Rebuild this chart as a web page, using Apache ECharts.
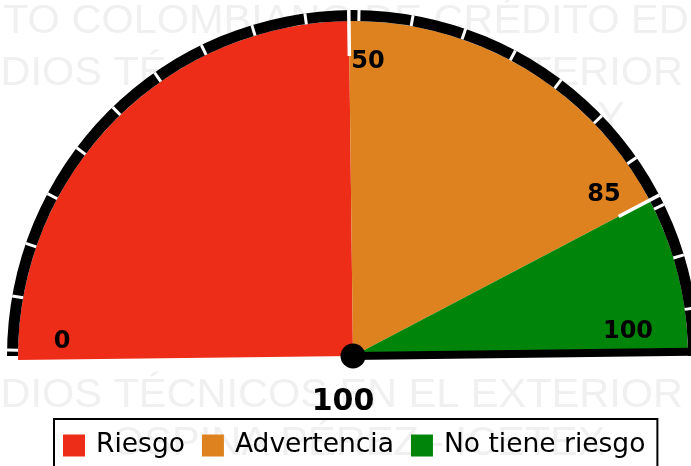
<!DOCTYPE html>
<html>
<head>
<meta charset="utf-8">
<script src="https://cdn.jsdelivr.net/npm/echarts@6/dist/echarts.min.js"></script>
<style>
html,body{margin:0;padding:0;background:#fff;}
#gauge{width:691px;height:466px;}
</style>
</head>
<body>
<div id="gauge"></div>
<script>
// datos
var categorias = ['Riesgo', 'Advertencia', 'No tiene riesgo'];
var rangos = [50, 35, 15];          // 0-50, 50-85, 85-100
var colores = ['#EE2D19', '#DE8220', '#00850A'];
var umbrales = [50, 85];            // marcas blancas largas
var etiquetas = ['0', '50', '85', '100'];
var valor = 100;

var marca = [
	'TO COLOMBIANO DE CRÉDITO ED',
	'DIOS TÉCNICOS EN EL EXTERIOR',
	'Y',
	'DIOS TÉCNICOS EN EL EXTERIOR',
	'OSPINA PÉREZ - ICETEX'
];

var cx = 353, cy = 356;
var giro = 0.7;   // el dibujo original esta un poco girado

var myChart = echarts.init(document.getElementById('gauge'));

// marca de agua  [x, y, alineacion]
var posMarca = [[3, 1, 'left'], [683, 53, 'right'], [597, 98, 'left'], [683, 375, 'right'], [112, 423, 'left']];
var graficos = [];
for (var i = 0; i < marca.length; i++) {
	graficos.push({
		type: 'text', z: -10, silent: true,
		x: posMarca[i][0], y: posMarca[i][1],
		style: {
			text: marca[i], fill: '#f0f0f0', align: posMarca[i][2], verticalAlign: 'top',
			font: '41.5px "Liberation Sans"'
		}
	});
}
// etiquetas de los umbrales
var posEtiq = [[62, 342], [368, 62], [604, 195], [628, 332]];
for (var j = 0; j < etiquetas.length; j++) {
	graficos.push({
		type: 'text', z: 50, silent: true,
		x: posEtiq[j][0], y: posEtiq[j][1],
		style: {
			text: etiquetas[j], fill: '#000', align: 'center', verticalAlign: 'middle',
			font: 'bold 24px "DejaVu Sans"'
		}
	});
}

var datosPie = [];
for (var k = 0; k < categorias.length; k++) {
	datosPie.push({ name: categorias[k], value: rangos[k], itemStyle: { color: colores[k] } });
}
// mitad inferior vacia
datosPie.push({ name: '', value: 100, itemStyle: { color: 'rgba(0,0,0,0)' }, emphasis: { disabled: true } });

var option = {
	animation: false,
	color: colores,
	graphic: graficos,
	legend: {
		data: categorias,
		left: 54,
		top: 419,
		icon: 'rect',
		itemWidth: 22,
		itemHeight: 22,
		itemGap: 17,
		borderColor: '#000',
		borderWidth: 2,
		borderRadius: 0,
		padding: [13, 12, 20, 9],
		selectedMode: false,
		textStyle: {
			color: '#000',
			fontSize: 26.5,
			fontFamily: 'DejaVu Sans',
			padding: [0, 0, 0, 6]
		}
	},
	series: [
		{	// sectores
			type: 'pie',
			center: [cx, cy],
			radius: [0, 335],
			startAngle: 180 + giro,
			clockwise: true,
			label: { show: false },
			labelLine: { show: false },
			silent: true,
			z: 1,
			data: datosPie
		},
		{	// arco negro
			type: 'gauge',
			center: [cx, cy],
			radius: 346,
			startAngle: 180,
			endAngle: 0,
			min: 0, max: 100,
			z: 2,
			axisLine: { lineStyle: { width: 11, color: [[1, '#000']] } },
			axisTick: { show: false },
			splitLine: { show: false },
			axisLabel: { show: false },
			pointer: { show: false },
			title: { show: false },
			detail: { show: false },
			data: []
		},
		{	// marcas cortas blancas
			type: 'gauge',
			center: [cx, cy],
			radius: 346,
			startAngle: 180 - 1,
			endAngle: -1,
			min: 0, max: 100,
			splitNumber: 20,
			z: 3,
			axisLine: { lineStyle: { width: 11, color: [[1, 'rgba(0,0,0,0)']] } },
			axisTick: { show: false },
			splitLine: { show: true, length: 11, distance: -11, lineStyle: { color: '#fff', width: 3 } },
			axisLabel: { show: false },
			pointer: { show: false },
			title: { show: false },
			detail: { show: false },
			data: []
		},
		{	// marcas largas en los umbrales
			type: 'gauge',
			center: [cx, cy],
			radius: 346,
			startAngle: 180 + giro,
			endAngle: giro,
			min: 0, max: 100,
			z: 4,
			axisLine: { show: false },
			axisTick: { show: false },
			splitLine: { show: false },
			axisLabel: { show: false },
			pointer: { show: true, icon: 'rect', width: 3.5, length: 46, offsetCenter: [0, -300] },
			itemStyle: { color: '#fff' },
			anchor: { show: false },
			title: { show: false },
			detail: { show: false },
			data: umbrales.map(function (v) { return { value: v }; })
		},
		{	// aguja
			type: 'gauge',
			center: [cx, cy],
			radius: 346,
			startAngle: 180 + giro,
			endAngle: giro,
			min: 0, max: 100,
			z: 5,
			axisLine: { show: false },
			axisTick: { show: false },
			splitLine: { show: false },
			axisLabel: { show: false },
			pointer: { show: true, icon: 'rect', width: 8, length: 360, offsetCenter: [0, 0] },
			itemStyle: { color: '#000' },
			anchor: { show: true, size: 25, showAbove: true, icon: 'circle', itemStyle: { color: '#000' } },
			title: { show: false },
			detail: {
				show: true,
				offsetCenter: [-10, 46],
				fontSize: 30,
				fontWeight: 'bold',
				fontFamily: 'DejaVu Sans',
				color: '#000',
				formatter: '{value}'
			},
			data: [{ value: valor }]
		}
	]
};
myChart.setOption(option);
window.addEventListener('resize', function () {
	myChart.resize();
});
</script>
</body>
</html>
